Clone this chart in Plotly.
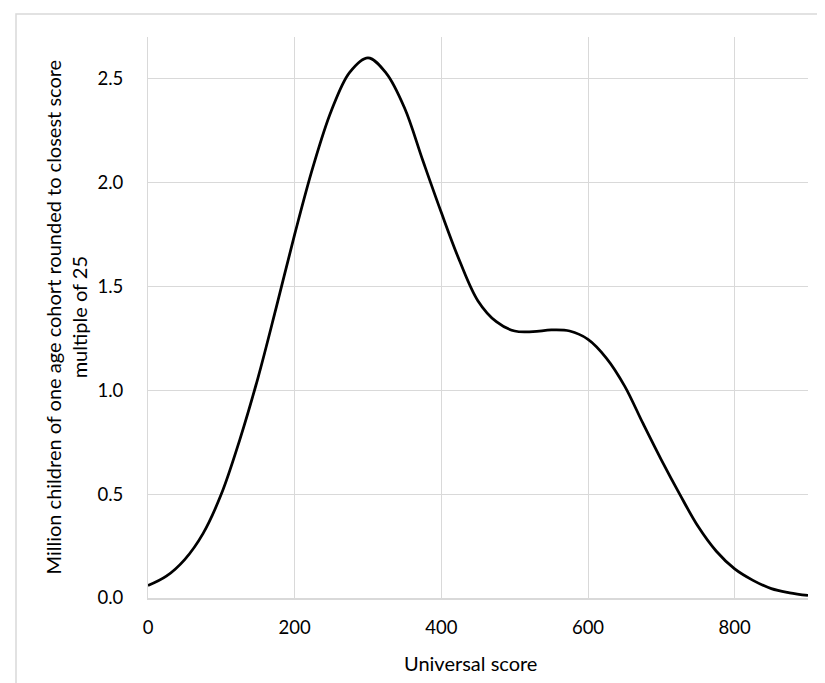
import plotly.graph_objects as go

scores = [0, 25, 50, 75, 100, 125, 150, 175, 200, 225, 250, 275, 300, 325, 350, 375,
          400, 425, 450, 475, 500, 525, 550, 575, 600, 625, 650, 675, 700, 725, 750,
          775, 800, 825, 850, 875, 900]
children_millions = [0.06, 0.105, 0.185, 0.31, 0.50, 0.76, 1.06, 1.40, 1.75, 2.075, 2.345,
                     2.53, 2.60, 2.525, 2.357, 2.103, 1.855, 1.622, 1.43, 1.33, 1.285, 1.282,
                     1.29, 1.285, 1.245, 1.155, 1.02, 0.84, 0.665, 0.50, 0.345, 0.225,
                     0.14, 0.085, 0.045, 0.025, 0.012]

x_ticks = [0, 200, 400, 600, 800]
y_ticks = [0.0, 0.5, 1.0, 1.5, 2.0, 2.5]
y_tick_labels = ["0.0", "0.5", "1.0", "1.5", "2.0", "2.5"]

FONT = "Lato, 'Open Sans', sans-serif"
GRID = "#d9d9d9"

fig = go.Figure()
fig.add_trace(go.Scatter(
    x=scores, y=children_millions, mode="lines",
    line=dict(color="#000000", width=2.75, shape="spline", smoothing=1.0),
    showlegend=False, hoverinfo="x+y",
))

L, R, T, B = 140, 25, 29, 93
W, H = 825, 683
pw, ph = W - L - R, H - T - B

fig.update_layout(
    width=W, height=H,
    margin=dict(l=L, r=R, t=T, b=B, pad=0),
    paper_bgcolor="white", plot_bgcolor="white",
    font=dict(family=FONT, size=18, color="#000000"),
    xaxis=dict(
        range=[0, 900], tickvals=x_ticks, ticktext=[str(v) for v in x_ticks],
        showgrid=True, gridcolor=GRID, gridwidth=1,
        showline=True, linecolor=GRID, linewidth=1.5,
        zeroline=False, ticks="", ticklabelstandoff=12,
        tickfont=dict(size=18.5, family=FONT, color="#000000"),
        fixedrange=True,
    ),
    yaxis=dict(
        range=[0, 2.7], tickvals=y_ticks, ticktext=y_tick_labels,
        showgrid=True, gridcolor=GRID, gridwidth=1,
        showline=True, linecolor=GRID, linewidth=1,
        zeroline=False, ticks="", ticklabelstandoff=20,
        tickfont=dict(size=18.5, family=FONT, color="#000000"),
        fixedrange=True,
    ),
)

# x-axis title
fig.add_annotation(
    text="Universal score",
    xref="paper", yref="paper", x=(462 - L) / pw, y=-(655 - (H - B)) / ph,
    xanchor="center", yanchor="middle", showarrow=False,
    font=dict(size=20, family=FONT, color="#000000"),
)

# two-line y-axis title
fig.add_annotation(
    text="Million children of one age cohort rounded to closest score<br>multiple of 25",
    xref="paper", yref="paper", x=(57 - L) / pw, y=0.5,
    xanchor="center", yanchor="middle", textangle=-90, showarrow=False,
    align="center",
    font=dict(size=20, family=FONT, color="#000000"),
)

# outer chart border
fig.add_shape(
    type="rect", xref="paper", yref="paper",
    x0=(8 - L) / pw, x1=(W + 20 - L) / pw,
    y0=-(H + 20 - (H - B)) / ph, y1=((H - B) - 6) / ph,
    line=dict(color=GRID, width=1.5), fillcolor="rgba(0,0,0,0)", layer="below",
)

fig.write_html("out.html")
